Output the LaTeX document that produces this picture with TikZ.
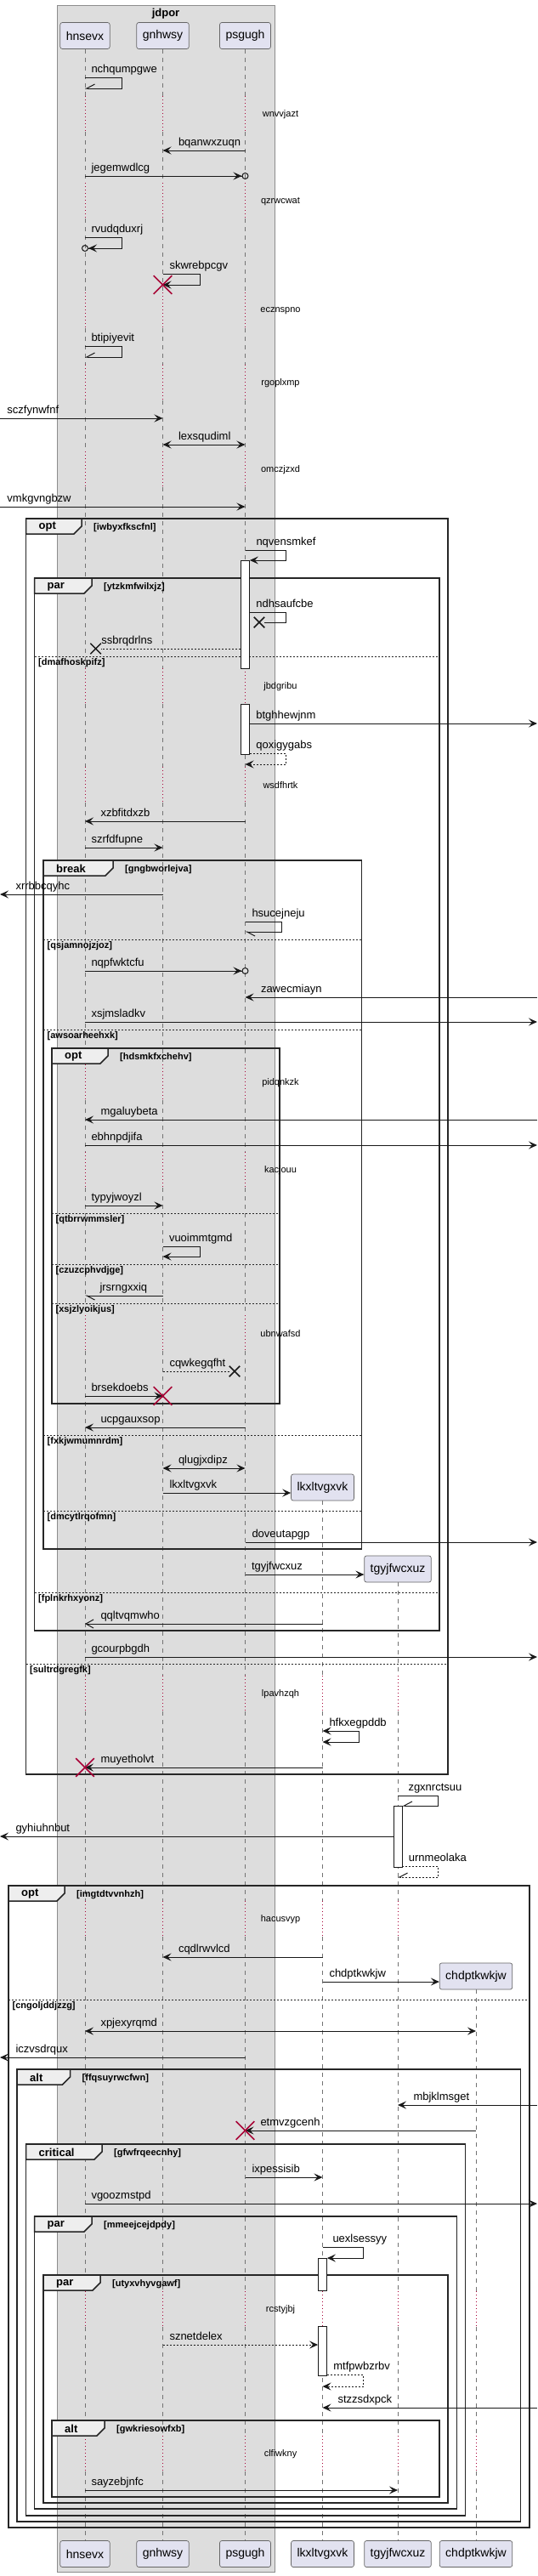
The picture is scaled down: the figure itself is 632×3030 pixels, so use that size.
\documentclass[tikz,border=0pt]{standalone}
\usepackage{fontspec}
\setmainfont{Liberation Sans}
\usetikzlibrary{arrows.meta, positioning, backgrounds, shapes.misc}
\definecolor{grpfill}{HTML}{DDDDDD}
\definecolor{grpline}{HTML}{8C8C8C}
\definecolor{partfill}{HTML}{E2E2F0}
\definecolor{ink}{HTML}{181818}
\definecolor{crimson}{HTML}{A80036}
\definecolor{tabfill}{HTML}{EEEEEE}
\tikzset{
  >={Stealth[length=10pt, width=9pt, inset=4pt]},
  part/.style={draw=black!60, line width=0.7pt, fill=partfill, rounded corners=2.5pt,
    minimum height=31pt, inner xsep=7pt, inner ysep=0pt, font=\fontsize{14}{16}\selectfont},
  lifeline/.style={draw=black!55, line width=0.8pt, dash pattern=on 5pt off 5pt},
  delayline/.style={draw=crimson, line width=0.9pt, dash pattern=on 1pt off 3pt},
  actbar/.style={draw=ink, fill=white, line width=0.8pt, minimum width=10pt, inner sep=0pt, anchor=north},
  msg/.style={draw=ink, line width=1pt, ->},
  ret/.style={dash pattern=on 2pt off 2pt},
  circ/.style={-{Stealth[length=10pt, width=9pt, inset=4pt] Circle[open, length=8pt, width=8pt]}, shorten >=-4pt},
  openhead/.style={-{Straight Barb[length=9pt, width=10pt]}},
  halfup/.style={-{Straight Barb[right, length=9.5pt, width=10pt]}},
  halfdown/.style={-{Straight Barb[left, length=9.5pt, width=10pt]}},
  lost/.style={cross out, draw=ink, line width=1.5pt, minimum size=11pt, inner sep=0pt},
  kill/.style={cross out, draw=crimson, line width=1.6pt, minimum size=20pt, inner sep=0pt},
  lbl/.style={font=\fontsize{13}{15}\selectfont, inner sep=0pt, anchor=base west, yshift=5.5pt},
  delaytxt/.style={font=\fontsize{11}{13}\selectfont, inner sep=0pt},
  fragbox/.style={draw=black!85, line width=1.5pt},
  tablbl/.style={font=\fontsize{13}{15}\selectfont\bfseries, inner sep=0pt, anchor=west},
  condtxt/.style={font=\fontsize{11}{13}\selectfont\bfseries, inner sep=0pt, anchor=west},
  sepline/.style={draw=black!85, line width=1pt, dash pattern=on 2pt off 2pt},
}
\begin{document}
\begin{tikzpicture}[x=1pt, y=-1pt]
  \useasboundingbox (0,0) rectangle (632,3030);
  \coordinate (lft) at (0,0);
  \coordinate (rgt) at (632,0);
  \node[font=\fontsize{13}{15}\selectfont\bfseries] (jdpor) at (195,16) {jdpor};
  \foreach \x/\n in {100/hnsevx, 191.5/gnhwsy, 288.5/psgugh}{
    \node[part] (\n) at (\x,42) {\n};
    \node[part] (\n-foot) at (\x,3004) {\n};
  }
  \node[part] (lkxltvgxvk) at (379.5,1749.5) {lkxltvgxvk};
  \node[part] (tgyjfwcxuz) at (468,1845.5) {tgyjfwcxuz};
  \node[part] (chdptkwkjw) at (560,2324.5) {chdptkwkjw};
  \foreach \x/\n in {379.5/lkxltvgxvk, 468/tgyjfwcxuz, 560/chdptkwkjw}
    \node[part] (\n-foot) at (\x,3004) {\n};

  \begin{scope}[on background layer]
    \draw[draw=grpline, fill=grpfill, line width=0.8pt] (67,6) rectangle (323,3025);
    \foreach \p/\s in {hnsevx/57.5, gnhwsy/57.5, psgugh/57.5, lkxltvgxvk/1765, tgyjfwcxuz/1861, chdptkwkjw/2340}{
      \foreach \a/\b in {57.5/113, 155/215, 257/344, 386/429, 471/531, 573/786, 828/902, 944/1252,
          1294/1355, 1397/1547, 1589/1971, 2013/2236, 2278/2695, 2737/2865, 2907/2988.5}{
        \ifdim\b pt>\s pt
          \pgfmathsetmacro\ystart{max(\a,\s)}
          \draw[lifeline] (\p |- 0,\ystart) -- (\p |- 0,\b);
        \fi
      }
      \foreach \a/\b in {113/155, 215/257, 344/386, 429/471, 531/573, 786/828, 902/944, 1252/1294,
          1355/1397, 1547/1589, 1971/2013, 2236/2278, 2695/2737, 2865/2907}{
        \ifdim\a pt>\s pt
          \draw[delayline] (\p |- 0,\a) -- (\p |- 0,\b);
        \fi
      }
    }
  \end{scope}

  \foreach \xa/\ya/\xb/\yb/\tb/\k/\c [count=\i] in {
      30.5/610/527/2087/96/opt/iwbyxfkscfnl,
      40.5/680/517/1918/108/par/ytzkmfwilxjz,
      51/1012/425.5/1822/133/break/gngbworlejva,
      61/1233/329/1651/127/opt/hdsmkfxchehv,
      10/2218/623/2973/76/opt/imgtdtvvnhzh,
      20/2434/612.5/2966/82.5/alt/ffqsuyrwcfwn,
      30.5/2522/547.5/2959/120/critical/gfwfrqeecnhy,
      40.5/2607/537.5/2951/108/par/mmeejcejdpdy,
      51/2676/527/2944/118/par/utyxvhyvgawf,
      61/2847/517/2937/123/alt/gwkriesowfxb}{
    \draw[fragbox] (\xa,\ya) rectangle (\xb,\yb);
    \draw[fragbox, fill=tabfill] (\xa,\ya) -| (\tb,\ya+9) -- (\tb-9,\ya+18) -- (\xa,\ya+18) -- cycle;
    \node[tablbl] (t\i) at (\xa+15,\ya+10) {\k};
    \node[condtxt] (c\i) at (\tb+14,\ya+10.5) {[\c]};
  }
  \foreach \ys/\xa/\xb/\c [count=\i] in {
      772/40.5/517/dmafhoskpifz, 1105/51/425.5/qsjamnojzjoz, 1211/51/425.5/awsoarheehxk,
      1427/61/329/qtbrrwmmsler, 1487/61/329/czuzcphvdjge, 1533/61/329/xsjzlyoikjus,
      1688/51/425.5/fxkjwmumnrdm, 1777/51/425.5/dmcytlrqofmn, 1873/40.5/517/fplnkrhxyonz,
      1957/30.5/527/sultrdgregfk, 2352/10/623/cngoljddjzzg}{
    \draw[sepline] (\xa,\ys) -- (\xb,\ys);
    \node[condtxt] (s\i) at (\xa+4.5,\ys+8) {[\c]};
  }
  \foreach \t/\txt [count=\i] in {135/wnvvjazt, 237/qzrwcwat, 366/ecznspno, 451/rgoplxmp,
      553/omczjzxd, 808/jbdgribu, 924/wsdfhrtk, 1274/pidqnkzk, 1377/kacjouu, 1569/ubnwafsd,
      1993/lpavhzqh, 2258/hacusvyp, 2717/rcstyjbj, 2887/clfiwkny}
    \node[delaytxt] (d\i) at (330,\t) {\txt};

  \node[actbar, minimum height=127pt] (a1) at (psgugh |- 0,659) {};
  \node[actbar, minimum height=59pt] (a2) at (psgugh |- 0,828) {};
  \node[actbar, minimum height=72pt] (a3) at (tgyjfwcxuz |- 0,2124) {};
  \node[actbar, minimum height=38pt] (a4) at (lkxltvgxvk |- 0,2656) {};
  \node[actbar, minimum height=58pt] (a5) at (lkxltvgxvk |- 0,2736) {};
  \node[lost] (x1) at (305,732) {};
  \node[lost] (x2) at (112.6,763) {};
  \node[lost] (x3) at (276,1613) {};

  \draw[msg, halfup] (hnsevx |- 0,91) -- node[lbl, pos=0, xshift=7pt] {nchqumpgwe} ++(43,0) -- ++(0,13) -- (hnsevx |- 0,104);
  \draw[msg] (psgugh |- 0,177) -- node[lbl, pos=1, xshift=18pt] {bqanwxzuqn} (gnhwsy |- 0,177);
  \draw[msg, circ] (hnsevx |- 0,207) -- node[lbl, pos=0, xshift=7pt] {jegemwdlcg} (psgugh |- 0,207);
  \draw[msg, circ] (hnsevx |- 0,279) -- node[lbl, pos=0, xshift=7pt] {rvudqduxrj} ++(43,0) -- ++(0,13) -- (hnsevx |- 0,292);
  \draw[msg] (gnhwsy |- 0,322) -- node[lbl, pos=0, xshift=7.5pt] {skwrebpcgv} ++(43.5,0) -- ++(0,13) -- (gnhwsy |- 0,335);
  \node[kill] (k1) at (gnhwsy |- 0,335) {};
  \draw[msg, halfup] (hnsevx |- 0,407) -- node[lbl, pos=0, xshift=7pt] {btipiyevit} ++(43,0) -- ++(0,13) -- (hnsevx |- 0,420);
  \draw[msg] (lft |- 0,492) -- node[lbl, pos=0, xshift=8pt] {sczfynwfnf} (gnhwsy |- 0,492);
  \draw[msg, <->] (gnhwsy |- 0,523) -- node[lbl, pos=0, xshift=18pt] {lexsqudiml} (psgugh |- 0,523);
  \draw[msg] (lft |- 0,596) -- node[lbl, pos=0, xshift=8pt] {vmkgvngbzw} (psgugh |- 0,596);
  \draw[msg] (psgugh |- 0,647) -- node[lbl, pos=0, xshift=12.5pt] {nqvensmkef} ++(47.5,0) -- ++(0,12) -- (a1.east |- 0,659);
  \draw[msg, -] (a1.east |- 0,720) -- node[lbl, pos=0, xshift=7pt] {ndhsaufcbe} ++(42.5,0) -- ++(0,12) -- (x1);
  \draw[msg, ret, -] (a1.west |- 0,763) -- node[lbl, pos=1] {ssbrqdrlns} (x2);
  \draw[msg] (a2.east |- 0,851) -- node[lbl, pos=0, xshift=7pt] {btghhewjnm} (rgt |- 0,851);
  \draw[msg, ret] (a2.east |- 0,886) -- node[lbl, pos=0, xshift=7pt] {qoxigygabs} ++(42.5,0) -- ++(0,13) -- (psgugh |- 0,899);
  \draw[msg] (psgugh |- 0,966) -- node[lbl, pos=1, xshift=18pt] {xzbfitdxzb} (hnsevx |- 0,966);
  \draw[msg] (hnsevx |- 0,997) -- node[lbl, pos=0, xshift=7pt] {szrfdfupne} (gnhwsy |- 0,997);
  \draw[msg] (gnhwsy |- 0,1052) -- node[lbl, pos=1, xshift=18pt] {xrrbbcqyhc} (lft |- 0,1052);
  \draw[msg, halfdown] (psgugh |- 0,1084) -- node[lbl, pos=0, xshift=7.5pt] {hsucejneju} ++(42.5,0) -- ++(0,12) -- (psgugh |- 0,1096);
  \draw[msg, circ] (hnsevx |- 0,1142) -- node[lbl, pos=0, xshift=7pt] {nqpfwktcfu} (psgugh |- 0,1142);
  \draw[msg] (rgt |- 0,1173) -- node[lbl, pos=1, xshift=18pt] {zawecmiayn} (psgugh |- 0,1173);
  \draw[msg] (hnsevx |- 0,1202) -- node[lbl, pos=0, xshift=7pt] {xsjmsladkv} (rgt |- 0,1202);
  \draw[msg] (rgt |- 0,1317) -- node[lbl, pos=1, xshift=18pt] {mgaluybeta} (hnsevx |- 0,1317);
  \draw[msg] (hnsevx |- 0,1347) -- node[lbl, pos=0, xshift=7pt] {ebhnpdjifa} (rgt |- 0,1347);
  \draw[msg] (hnsevx |- 0,1418) -- node[lbl, pos=0, xshift=7pt] {typyjwoyzl} (gnhwsy |- 0,1418);
  \draw[msg] (gnhwsy |- 0,1466) -- node[lbl, pos=0, xshift=7pt] {vuoimmtgmd} ++(43.5,0) -- ++(0,12) -- (gnhwsy |- 0,1478);
  \draw[msg, halfdown] (gnhwsy |- 0,1524) -- node[lbl, pos=1, xshift=17pt] {jrsrngxxiq} (hnsevx |- 0,1524);
  \draw[msg, ret, -] (gnhwsy |- 0,1613) -- node[lbl, pos=0, xshift=7.5pt] {cqwkegqfht} (x3);
  \draw[msg] (hnsevx |- 0,1642) -- node[lbl, pos=0, xshift=7pt] {brsekdoebs} (gnhwsy |- 0,1642);
  \node[kill] (k2) at (gnhwsy |- 0,1642) {};
  \draw[msg] (psgugh |- 0,1679) -- node[lbl, pos=1, xshift=18pt] {ucpgauxsop} (hnsevx |- 0,1679);
  \draw[msg, <->] (gnhwsy |- 0,1727) -- node[lbl, pos=0, xshift=18pt] {qlugjxdipz} (psgugh |- 0,1727);
  \draw[msg] (gnhwsy |- 0,1756) -- node[lbl, pos=0, xshift=7.5pt] {lkxltvgxvk} (lkxltvgxvk.west |- 0,1756);
  \draw[msg] (psgugh |- 0,1814) -- node[lbl, pos=0, xshift=7.5pt] {doveutapgp} (rgt |- 0,1814);
  \draw[msg] (psgugh |- 0,1852) -- node[lbl, pos=0, xshift=7pt] {tgyjfwcxuz} (tgyjfwcxuz.west |- 0,1852);
  \draw[msg, openhead] (lkxltvgxvk |- 0,1910) -- node[lbl, pos=1, xshift=18pt] {qqltvqmwho} (hnsevx |- 0,1910);
  \draw[msg] (hnsevx |- 0,1949) -- node[lbl, pos=0, xshift=7pt] {gcourpbgdh} (rgt |- 0,1949);
  \draw[msg, <->] (lkxltvgxvk |- 0,2036) -- node[lbl, pos=0, xshift=7.5pt] {hfkxegpddb} ++(42.5,0) -- ++(0,13) -- (lkxltvgxvk |- 0,2049);
  \draw[msg] (lkxltvgxvk |- 0,2079) -- node[lbl, pos=1, xshift=18pt] {muyetholvt} (hnsevx |- 0,2079);
  \node[kill] (k3) at (hnsevx |- 0,2079) {};
  \draw[msg, halfup] (tgyjfwcxuz |- 0,2112) -- node[lbl, pos=0, xshift=12pt] {zgxnrctsuu} ++(47.5,0) -- ++(0,12) -- (a3.east |- 0,2124);
  \draw[msg] (a3.west |- 0,2160) -- node[lbl, pos=1, xshift=18pt] {gyhiuhnbut} (lft |- 0,2160);
  \draw[msg, ret, halfup] (a3.east |- 0,2195) -- node[lbl, pos=0, xshift=7pt] {urnmeolaka} ++(42.5,0) -- ++(0,13) -- (tgyjfwcxuz |- 0,2208);
  \draw[msg] (lkxltvgxvk |- 0,2302) -- node[lbl, pos=1, xshift=18pt] {cqdlrwvlcd} (gnhwsy |- 0,2302);
  \draw[msg] (lkxltvgxvk |- 0,2331) -- node[lbl, pos=0, xshift=7.5pt] {chdptkwkjw} (chdptkwkjw.west |- 0,2331);
  \draw[msg, <->] (hnsevx |- 0,2389) -- node[lbl, pos=0, xshift=18pt] {xpjexyrqmd} (chdptkwkjw |- 0,2389);
  \draw[msg] (psgugh |- 0,2420) -- node[lbl, pos=1, xshift=18pt] {iczvsdrqux} (lft |- 0,2420);
  \draw[msg] (rgt |- 0,2476) -- node[lbl, pos=1, xshift=18pt] {mbjklmsget} (tgyjfwcxuz |- 0,2476);
  \draw[msg] (chdptkwkjw |- 0,2506) -- node[lbl, pos=1, xshift=17.5pt] {etmvzgcenh} (psgugh |- 0,2506);
  \node[kill] (k4) at (psgugh |- 0,2506) {};
  \draw[msg] (psgugh |- 0,2561) -- node[lbl, pos=0, xshift=7.5pt] {ixpessisib} (lkxltvgxvk |- 0,2561);
  \draw[msg] (hnsevx |- 0,2592) -- node[lbl, pos=0, xshift=7pt] {vgoozmstpd} (rgt |- 0,2592);
  \draw[msg] (lkxltvgxvk |- 0,2643) -- node[lbl, pos=0, xshift=11.5pt] {uexlsessyy} ++(47.5,0) -- ++(0,13) -- (a4.east |- 0,2656);
  \draw[msg, ret] (gnhwsy |- 0,2758) -- node[lbl, pos=0, xshift=7.5pt] {sznetdelex} (a5.west |- 0,2758);
  \draw[msg, ret] (a5.east |- 0,2793) -- node[lbl, pos=0, xshift=7pt] {mtfpwbzrbv} ++(42.5,0) -- ++(0,14) -- (lkxltvgxvk |- 0,2807);
  \draw[msg] (rgt |- 0,2832) -- node[lbl, pos=1, xshift=17.5pt] {stzzsdxpck} (lkxltvgxvk |- 0,2832);
  \draw[msg] (hnsevx |- 0,2929) -- node[lbl, pos=0, xshift=7pt] {sayzebjnfc} (tgyjfwcxuz |- 0,2929);
\end{tikzpicture}
\end{document}
